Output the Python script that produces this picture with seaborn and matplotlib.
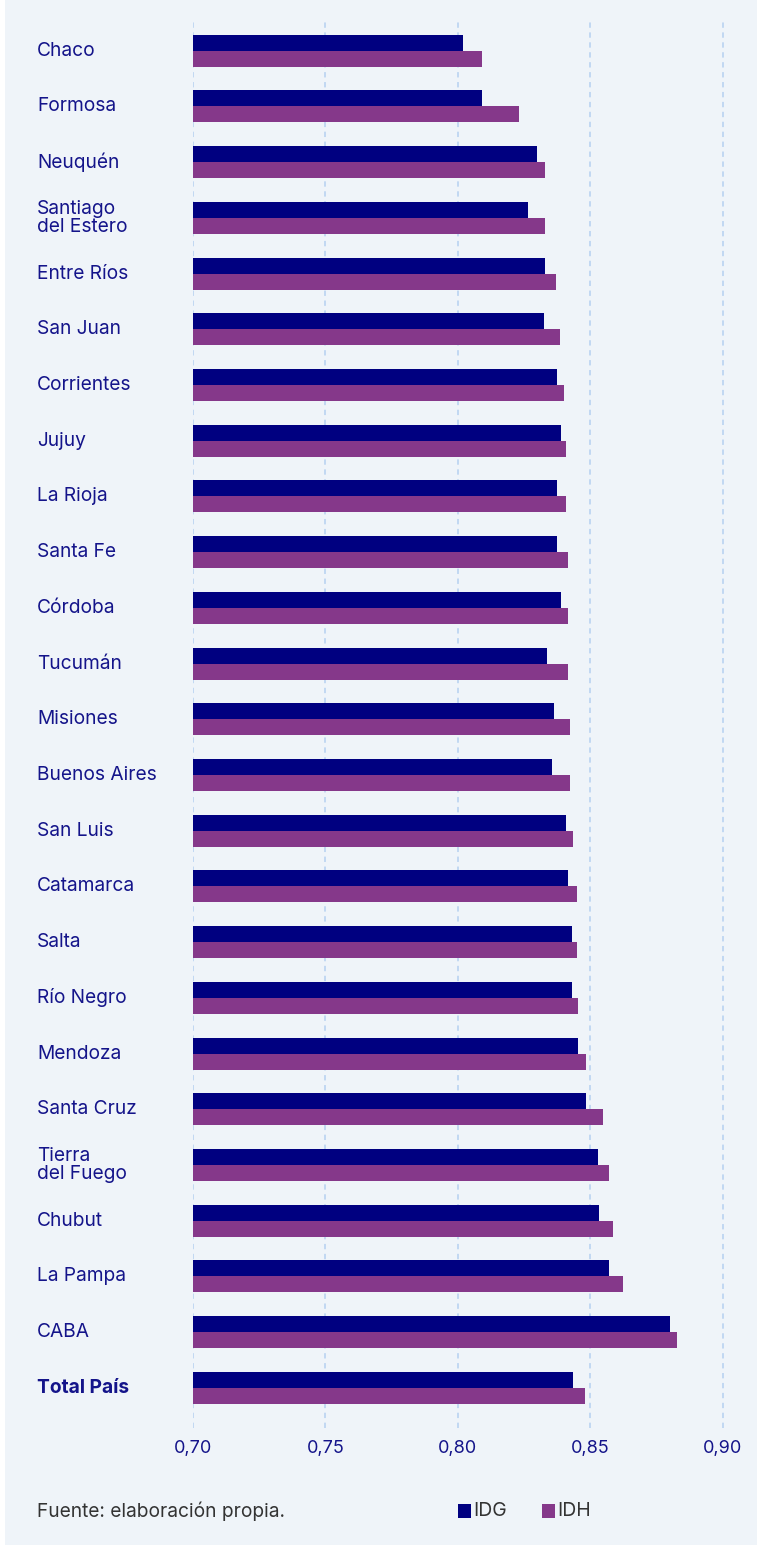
import numpy as np
import pandas as pd
import matplotlib
matplotlib.use("Agg")
import matplotlib.pyplot as plt
from matplotlib.patches import Rectangle
from matplotlib.transforms import blended_transform_factory
import seaborn as sns

provincias = ["Chaco", "Formosa", "Neuquén", "Santiago\ndel Estero", "Entre Ríos",
              "San Juan", "Corrientes", "Jujuy", "La Rioja", "Santa Fe", "Córdoba",
              "Tucumán", "Misiones", "Buenos Aires", "San Luis", "Catamarca", "Salta",
              "Río Negro", "Mendoza", "Santa Cruz", "Tierra\ndel Fuego", "Chubut",
              "La Pampa", "CABA", "Total País"]
idg = [0.802, 0.809, 0.830, 0.8265, 0.833, 0.8325, 0.8375, 0.839, 0.8375, 0.8375,
       0.839, 0.8337, 0.8363, 0.8356, 0.841, 0.8416, 0.843, 0.843, 0.8454, 0.8484,
       0.853, 0.8533, 0.857, 0.880, 0.8436]
idh = [0.809, 0.823, 0.833, 0.833, 0.837, 0.8386, 0.840, 0.841, 0.841, 0.8416,
       0.8416, 0.8416, 0.8424, 0.8424, 0.8435, 0.845, 0.845, 0.8454, 0.8484, 0.8548,
       0.857, 0.8586, 0.8624, 0.8828, 0.848]
xticks = [0.70, 0.75, 0.80, 0.85, 0.90]
xticklabels = ["0,70", "0,75", "0,80", "0,85", "0,90"]

bg = "#EFF4F9"
navy = "#000080"
purple = "#85388A"
txt = "#14148A"

df = pd.DataFrame({"Provincia": provincias * 2,
                   "Valor": idg + idh,
                   "Indice": ["IDG"] * len(idg) + ["IDH"] * len(idh)})

sns.set_theme(style="white")
plt.rcParams["font.family"] = ["Inter", "DejaVu Sans"]
fs = 13.8

fig = plt.figure(figsize=(7.57, 15.45), dpi=100, facecolor="white")
fig.patches.append(Rectangle((5 / 757, 0), 1, 1, transform=fig.transFigure,
                             facecolor=bg, edgecolor="none", zorder=-10))
ax = fig.add_axes([193 / 757, 1 - 1428 / 1545, (757 - 193) / 757, (1428 - 19) / 1545])
ax.set_facecolor("none")

sns.barplot(data=df, y="Provincia", x="Valor", hue="Indice", orient="h",
            palette=[navy, purple], width=0.574, saturation=1, ax=ax,
            legend=False, linewidth=0, zorder=3)

ax.set_xlim(0.70, 0.70 + (757 - 193) / 2648)
ax.set_ylim(24.72, -0.57)
ax.set_xticks(xticks)
ax.set_xticklabels(xticklabels, color=txt, fontsize=13)
ax.tick_params(axis="x", length=0, pad=9)
ax.tick_params(axis="y", length=0)
ax.set_yticklabels([])
ax.set_xlabel("")
ax.set_ylabel("")
for s in ax.spines.values():
    s.set_visible(False)
ax.xaxis.grid(True, color="#B5D0F0", linestyle=(0, (3.5, 3)), linewidth=1.1, zorder=0)
ax.yaxis.grid(False)

# category labels, left aligned
trans = blended_transform_factory(fig.transFigure, ax.transData)
for i, p in enumerate(provincias):
    weight = "bold" if p == "Total País" else "normal"
    ax.text(37 / 757, i, p, fontsize=fs, color=txt, ha="left", va="center",
            fontweight=weight, linespacing=1.05, transform=trans)

fig.text(37 / 757, 1 - 1511 / 1545, "Fuente: elaboración propia.", fontsize=fs,
         color="#333333", ha="left", va="center")

# legend
for x0, lab, col in [(458, "IDG", navy), (542, "IDH", purple)]:
    fig.patches.append(Rectangle((x0 / 757, 1 - 1518 / 1545), 13 / 757, 14 / 1545,
                                 transform=fig.transFigure, facecolor=col, edgecolor="none"))
    fig.text((x0 + 15) / 757, 1 - 1511 / 1545, lab, fontsize=14, color="#333333",
             ha="left", va="center")

fig.savefig("out.png", dpi=100, facecolor=fig.get_facecolor())
